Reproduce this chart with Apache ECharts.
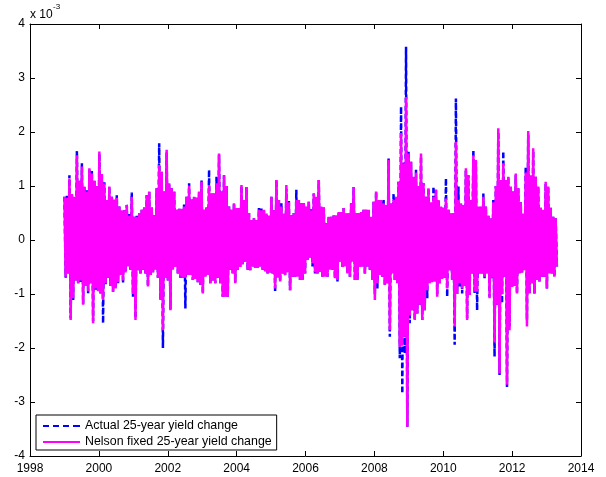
<!DOCTYPE html>
<html>
<head>
<meta charset="utf-8">
<script src="https://cdn.jsdelivr.net/npm/echarts@6/dist/echarts.min.js"></script>
<style>
  html, body { margin: 0; padding: 0; background: #fff; }
  #chart { width: 606px; height: 477px; }
</style>
</head>
<body>
<div id="chart"></div>
<script>
// Daily 25-year yield changes (units of 1e-3), sampled as alternating
// up/down swings so the dense oscillation band is reproduced.
const firstYear = 1999.0;
const lastYear = 2013.3;

const actualChange = [
  0.80,-0.70, 0.82,-0.62, 1.20,-1.45, 0.85,-1.11, 0.80,-0.75, 1.65,-0.80, 1.10,-0.78, 1.42,-1.18,
  0.99,-0.85, 0.92,-0.99, 1.30,-0.80, 1.28,-1.50, 1.10,-0.92, 1.00,-0.95, 1.60,-0.99, 1.20,-1.54,
  1.07,-0.82, 0.74,-0.70, 0.99,-0.85, 0.80,-0.96, 0.75,-0.90, 0.83,-0.80, 0.62,-0.65, 0.55,-0.80,
  0.55,-0.60, 0.65,-0.49, 0.48,-0.55, 0.88,-1.05, 0.43,-1.45, 0.45,-0.56, 0.50,-0.62, 0.56,-0.55,
  0.60,-0.62, 0.83,-0.86, 0.90,-0.65, 0.60,-0.62, 0.46,-0.55, 0.96,-0.70, 1.79,-1.11, 1.25,-2.00,
  0.90,-0.70, 1.62,-0.75, 1.05,-1.28, 0.96,-0.50, 0.90,-0.50, 0.56,-0.62, 0.58,-0.70, 0.58,-0.70,
  0.68,-1.27, 0.80,-0.65, 1.05,-0.65, 0.75,-0.74, 0.80,-0.72, 0.78,-0.78, 0.90,-0.83, 1.11,-0.99,
  0.56,-0.68, 0.60,-0.65, 1.30,-0.80, 0.86,-0.75, 0.86,-0.80, 1.17,-0.70, 1.58,-0.80, 0.90,-1.05,
  1.20,-1.05, 1.00,-1.05, 0.62,-0.55, 0.56,-0.62, 0.68,-0.78, 0.59,-0.55, 0.59,-0.50, 1.00,-0.45,
  0.74,-0.40, 0.98,-0.56, 0.50,-0.56, 0.37,-0.49, 0.40,-0.52, 0.37,-0.52, 0.59,-0.49, 0.59,-0.55,
  0.56,-0.58, 0.49,-0.62, 0.45,-0.60, 0.80,-0.62, 0.55,-0.96, 1.11,-0.70, 0.74,-0.77, 0.68,-0.62,
  0.49,-0.65, 0.95,-0.60, 0.74,-0.93, 0.46,-0.68, 0.50,-0.68, 0.93,-0.68, 0.74,-0.74, 0.68,-0.76,
  0.68,-0.62, 0.62,-0.37, 0.71,-0.33, 0.59,-0.49, 0.86,-0.62, 0.80,-0.62, 1.11,-0.59, 0.62,-0.68,
  0.60,-0.68, 0.31,-0.68, 0.43,-0.52, 0.43,-0.55, 0.46,-0.71, 0.46,-0.77, 0.52,-0.40, 0.52,-0.50,
  0.59,-0.49, 0.49,-0.62, 0.49,-0.68, 0.68,-0.40, 0.98,-0.76, 0.50,-0.74, 0.50,-0.50, 0.52,-0.49,
  0.56,-0.62, 0.56,-0.49, 0.56,-0.55, 0.43,-0.74, 0.71,-1.00, 0.90,-0.90, 0.74,-0.65, 0.74,-0.68,
  0.74,-0.83, 0.65,-0.80, 1.51,-1.79, 0.68,-0.62, 0.86,-0.74, 0.80,-0.80, 1.08,-2.19, 2.47,-2.84,
  1.45,-2.10, 3.58,-3.46, 1.64,-1.54, 1.45,-1.30, 1.17,-1.48, 1.30,-1.36, 1.00,-1.20, 1.55,-1.48,
  1.05,-1.30, 0.80,-1.08, 0.96,-0.80, 0.70,-0.78, 0.99,-0.77, 0.93,-1.00, 0.74,-0.80, 0.62,-0.71,
  0.60,-0.70, 1.14,-1.05, 0.56,-0.56, 0.49,-0.74, 0.50,-1.94, 2.62,-1.00, 0.99,-0.86, 0.68,-0.99,
  0.65,-0.85, 1.30,-1.45, 1.20,-1.02, 0.74,-0.62, 1.67,-1.00, 1.45,-1.30, 0.62,-0.62, 0.62,-0.62,
  0.86,-0.71, 0.62,-0.62, 0.45,-1.05, 0.40,-0.71, 0.74,-2.16, 1.00,-1.20, 2.00,-2.50, 1.11,-1.17,
  1.64,-0.68, 1.11,-2.72, 1.17,-1.60, 0.99,-0.87, 0.90,-0.85, 1.20,-0.99, 0.96,-0.62, 0.70,-0.60,
  0.49,-0.56, 1.36,-1.48, 1.95,-0.99, 1.20,-0.80, 1.65,-0.99, 1.17,-0.74, 0.99,-0.77, 0.60,-0.68,
  0.56,-0.68, 1.05,-0.90, 0.99,-0.62, 0.60,-0.62, 0.43,-0.68, 0.40,-0.49
];

const nelsonChange = [
  0.80,-0.68, 0.78,-0.62, 1.14,-1.48, 0.85,-1.08, 0.80,-0.75, 1.57,-0.80, 1.10,-0.75, 1.36,-1.20,
  0.99,-0.85, 0.90,-0.95, 1.33,-0.80, 1.23,-1.54, 1.10,-0.90, 1.00,-0.95, 1.64,-0.99, 1.22,-1.11,
  1.05,-0.80, 0.74,-0.70, 0.99,-0.85, 0.80,-0.96, 0.75,-0.90, 0.78,-0.78, 0.62,-0.65, 0.55,-0.75,
  0.55,-0.60, 0.65,-0.49, 0.45,-0.55, 0.80,-1.00, 0.43,-1.48, 0.43,-0.56, 0.50,-0.62, 0.56,-0.55,
  0.60,-0.62, 0.83,-0.86, 0.90,-0.65, 0.60,-0.60, 0.46,-0.55, 0.96,-0.70, 1.39,-1.11, 1.27,-1.67,
  0.90,-0.70, 1.67,-0.75, 1.05,-1.30, 0.96,-0.55, 0.90,-0.50, 0.56,-0.62, 0.58,-0.68, 0.58,-0.70,
  0.62,-0.70, 0.80,-0.65, 1.00,-0.65, 0.75,-0.74, 0.80,-0.72, 0.78,-0.78, 0.90,-0.83, 1.08,-0.99,
  0.56,-0.68, 0.60,-0.65, 1.02,-0.80, 0.86,-0.75, 0.86,-0.80, 1.05,-0.70, 1.60,-0.80, 0.90,-1.05,
  1.20,-1.05, 1.00,-1.05, 0.62,-0.55, 0.56,-0.62, 0.68,-0.80, 0.59,-0.55, 0.59,-0.50, 1.02,-0.45,
  0.74,-0.40, 0.98,-0.55, 0.50,-0.56, 0.37,-0.49, 0.40,-0.52, 0.37,-0.52, 0.56,-0.49, 0.55,-0.55,
  0.56,-0.58, 0.49,-0.62, 0.45,-0.60, 0.80,-0.62, 0.55,-0.90, 1.11,-0.70, 0.74,-0.77, 0.62,-0.62,
  0.49,-0.65, 1.02,-0.60, 0.70,-0.93, 0.46,-0.68, 0.50,-0.68, 0.74,-0.68, 0.74,-0.74, 0.68,-0.74,
  0.68,-0.62, 0.62,-0.37, 0.71,-0.33, 0.55,-0.43, 0.86,-0.60, 0.80,-0.62, 1.11,-0.59, 0.62,-0.68,
  0.60,-0.68, 0.31,-0.68, 0.43,-0.55, 0.43,-0.55, 0.46,-0.71, 0.46,-0.74, 0.52,-0.40, 0.52,-0.50,
  0.59,-0.49, 0.49,-0.62, 0.49,-0.68, 0.68,-0.40, 0.98,-0.74, 0.50,-0.74, 0.50,-0.50, 0.52,-0.49,
  0.56,-0.62, 0.56,-0.49, 0.56,-0.55, 0.43,-0.74, 0.71,-1.11, 0.90,-0.80, 0.74,-0.65, 0.74,-0.68,
  0.68,-0.83, 0.65,-0.80, 1.48,-1.67, 0.68,-0.62, 0.74,-0.74, 0.80,-0.80, 1.08,-1.98, 1.98,-1.96,
  1.42,-1.79, 2.65,-3.46, 1.60,-1.40, 1.45,-1.30, 1.17,-1.48, 1.25,-1.36, 1.00,-1.20, 1.60,-1.48,
  1.05,-1.30, 0.80,-0.93, 0.96,-0.80, 0.70,-0.78, 0.80,-0.77, 0.93,-1.05, 0.74,-0.80, 0.62,-0.72,
  0.60,-0.70, 0.77,-0.90, 0.56,-0.56, 0.49,-0.74, 0.50,-1.60, 1.82,-1.00, 0.74,-0.80, 0.68,-0.90,
  0.65,-0.85, 1.33,-1.48, 1.20,-1.02, 0.74,-0.62, 1.57,-0.96, 1.48,-0.96, 0.62,-0.62, 0.62,-0.62,
  0.80,-0.68, 0.62,-0.62, 0.45,-1.08, 0.40,-0.70, 0.70,-1.90, 1.00,-1.20, 2.07,-2.47, 1.11,-1.00,
  1.42,-0.68, 1.11,-2.68, 1.17,-1.67, 0.99,-0.87, 0.90,-0.85, 1.23,-0.99, 0.96,-0.62, 0.70,-0.60,
  0.49,-0.56, 1.25,-1.60, 2.02,-0.99, 1.20,-0.80, 1.70,-0.99, 1.17,-0.74, 0.99,-0.77, 0.60,-0.68,
  0.56,-0.68, 1.08,-0.90, 0.99,-0.62, 0.60,-0.62, 0.43,-0.68, 0.40,-0.49
];

const xTicks = { min: 1998, max: 2014, step: 2 };
const yTicks = { min: -4, max: 4, step: 1 };
const seriesNames = ['Actual 25-year yield change', 'Nelson fixed 25-year yield change'];

const FONT = '"Liberation Sans", Arial, Helvetica, sans-serif';

// Legend keys: a dashed bar for the actual series, a solid bar for the fitted one.
const DASHED_KEY = 'path://M0,0h6v2h-6zM10,0h6v2h-6zM20,0h6v2h-6zM30,0h7v2h-7z';
const SOLID_KEY = 'path://M0,0h37v2h-37z';

function withTimes(values) {
  const n = values.length;
  return values.map((v, i) => [firstYear + (lastYear - firstYear) * i / (n - 1), v]);
}

function axisCommon(extra) {
  return Object.assign({
    type: 'value',
    axisLine: { show: true, onZero: false, lineStyle: { color: '#000', width: 1 } },
    axisTick: { show: true, inside: true, length: 5, lineStyle: { color: '#000', width: 1 } },
    splitLine: { show: false }
  }, extra);
}

const plainLabel = v => String(v);

const chart = echarts.init(document.getElementById('chart'), null, { renderer: 'canvas' });

chart.setOption({
  animation: false,
  backgroundColor: '#fff',
  grid: { left: 30, right: 25, top: 24, bottom: 21, containLabel: false },
  xAxis: [
    axisCommon({ position: 'bottom', min: xTicks.min, max: xTicks.max, interval: xTicks.step,
      axisLabel: { color: '#000', fontSize: 12, fontFamily: FONT, margin: 7, formatter: plainLabel } }),
    axisCommon({ position: 'top', min: xTicks.min, max: xTicks.max, interval: xTicks.step,
      axisLabel: { show: false } })
  ],
  yAxis: [
    axisCommon({ position: 'left', min: yTicks.min, max: yTicks.max, interval: yTicks.step,
      axisLabel: { color: '#000', fontSize: 12, fontFamily: FONT, margin: 5, formatter: plainLabel } }),
    axisCommon({ position: 'right', min: yTicks.min, max: yTicks.max, interval: yTicks.step,
      axisLabel: { show: false } })
  ],
  legend: {
    orient: 'vertical',
    left: 36,
    top: 415,
    padding: [5, 5, 2, 7],
    itemGap: 4,
    itemWidth: 37,
    itemHeight: 2,
    backgroundColor: '#fff',
    borderColor: '#000',
    borderWidth: 1,
    borderRadius: 0,
    selectedMode: false,
    textStyle: { color: '#000', fontSize: 12.4, fontFamily: FONT, lineHeight: 12 },
    data: [
      { name: seriesNames[0], icon: DASHED_KEY, itemStyle: { color: '#0000ff' } },
      { name: seriesNames[1], icon: SOLID_KEY, itemStyle: { color: '#ff00ff' } }
    ]
  },
  graphic: [
    { type: 'text', left: 30, top: 9, style: { text: 'x 10', fill: '#000', font: '12px ' + FONT } },
    { type: 'text', left: 53, top: 3, style: { text: '-3', fill: '#000', font: '8px ' + FONT } }
  ],
  series: [
    {
      name: seriesNames[0],
      type: 'line',
      data: withTimes(actualChange),
      showSymbol: false,
      symbol: 'none',
      color: '#0000ff',
      lineStyle: { color: '#0000ff', width: 2.5, type: [5, 3] },
      z: 2
    },
    {
      name: seriesNames[1],
      type: 'line',
      data: withTimes(nelsonChange),
      showSymbol: false,
      symbol: 'none',
      color: '#ff00ff',
      lineStyle: { color: '#ff00ff', width: 2.5, type: 'solid' },
      z: 3
    }
  ]
});
</script>
</body>
</html>
